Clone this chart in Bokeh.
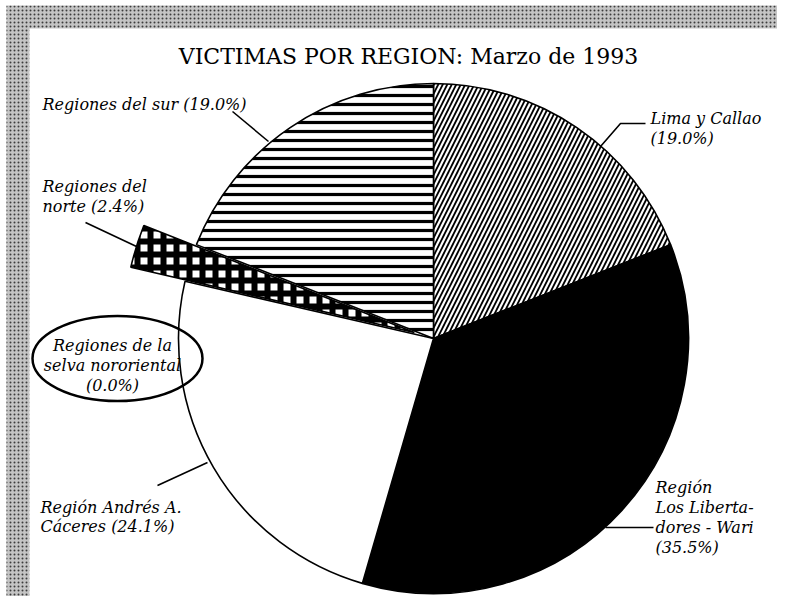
import numpy as np
from bokeh.plotting import figure
from bokeh.models import Range1d
from bokeh.core.properties import value
from bokeh.embed import file_html
from bokeh.resources import INLINE

# ---------------- data ----------------
title_text = "VICTIMAS POR REGION: Marzo de 1993"
regions = ["Lima y Callao", "Región Los Libertadores - Wari", "Región Andrés A. Cáceres",
           "Regiones de la selva nororiental", "Regiones del norte", "Regiones del sur"]
shares = [19.0, 35.5, 24.1, 0.0, 2.4, 19.0]
label_heads = [["Lima y Callao"], ["Región", "Los Liberta-", "dores - Wari"],
               ["Región Andrés A.", "Cáceres"], ["Regiones de la", "selva nororiental"],
               ["Regiones del", "norte"], ["Regiones del sur"]]

# ---------------- page / coordinate mapping (image pixels) ----------------
W, H, M = 793, 612, 8
PW, PH = W - 2 * M, H - 2 * M
def Y(v):
    return H - np.asarray(v, dtype=float)

p = figure(width=PW, height=PH, output_backend="svg", toolbar_location=None,
           x_range=Range1d(0, PW), y_range=Range1d(H - PH, H), min_border=0,
           background_fill_color="white", border_fill_color="white")
p.axis.visible = False
p.grid.visible = False
p.outline_line_color = None

# halftone frame
p.quad(left=[6], right=[W], bottom=[0], top=Y([5]), fill_color="#c4c4c4", line_color=None,
       hatch_pattern="dot", hatch_color="#3c3c3c", hatch_scale=4, hatch_weight=1.2)
p.quad(left=[29], right=[787], top=Y([28]), bottom=Y([601]), fill_color="white", line_color=None)

# ---------------- pie ----------------
cx, cy, R = 433, 338, 255
cum = np.concatenate([[0.0], np.cumsum(shares)])
start = np.deg2rad(90 - cum[:-1] * 3.6)
end = np.deg2rad(90 - cum[1:] * 3.6)

styles = [
    dict(fill_color="white", hatch_pattern="right_diagonal_line", hatch_color="black",
         hatch_scale=9, hatch_weight=1.8),
    dict(fill_color="black"),
    dict(fill_color="white"),
    dict(fill_color="white"),
    dict(fill_color="white", hatch_pattern="cross", hatch_color="black",
         hatch_scale=13, hatch_weight=6),
    dict(fill_color="white", hatch_pattern="horizontal_line", hatch_color="black",
         hatch_scale=9, hatch_weight=3.2),
]
explode = [0, 0, 0, 0, 20, 0]
rscale = [1, 1, 1, 1, 291 / 255, 1]

for i, s in enumerate(shares):
    if s <= 0:
        continue
    mid = (start[i] + end[i]) / 2
    x0 = cx + explode[i] * np.cos(mid)
    y0 = Y(cy) + explode[i] * np.sin(mid)
    p.wedge(x=[x0], y=[y0], radius=R * rscale[i], start_angle=[start[i]], end_angle=[end[i]],
            direction="clock", line_color="black", line_width=1.6, **styles[i])

# ---------------- labels ----------------
labels = []
for heads, s in zip(label_heads, shares):
    lines = list(heads)
    pct = f"({s:.1f}%)"
    if lines[-1] in ("Regiones del sur", "Cáceres", "norte"):
        lines[-1] = lines[-1] + " " + pct
    else:
        lines.append(pct)
    labels.append(lines)

# label layout: (x, first baseline, line step, align)
layout = [(650, 118, 20, "left"), (655, 487, 20, "left"), (40, 507, 19, "left"),
          (112, 345, 20, "center"), (42, 186, 20, "left"), (42, 104, 20, "left")]

font = value("DejaVu Serif")
for lines, (lx, by, step, al) in zip(labels, layout):
    ys = Y([by + k * step for k in range(len(lines))])
    p.text(x=[lx] * len(lines), y=ys, text=lines, text_font=font, text_font_style="italic",
           text_font_size="16px", text_align=al, text_baseline="alphabetic", text_color="black")

p.text(x=[408], y=Y([56]), text=[title_text], text_font=font, text_font_size="22px",
       text_align="center", text_baseline="alphabetic", text_color="black")

# leader lines
leaders = [
    [(645, 123), (620, 123), (600, 146)],
    [(605, 527), (653, 527)],
    [(157, 485), (207, 462)],
    [(85, 222), (136, 246)],
    [(232, 111), (268, 141)],
]
p.multi_line(xs=[[a for a, b in L] for L in leaders], ys=[list(Y([b for a, b in L])) for L in leaders],
             line_color="black", line_width=1.6)

# ellipse around the 0.0% label
p.ellipse(x=[117], y=Y([358]), width=170, height=85, fill_color=None, line_color="black",
          line_width=2.5)

open("out.html", "w").write(file_html(p, INLINE))
